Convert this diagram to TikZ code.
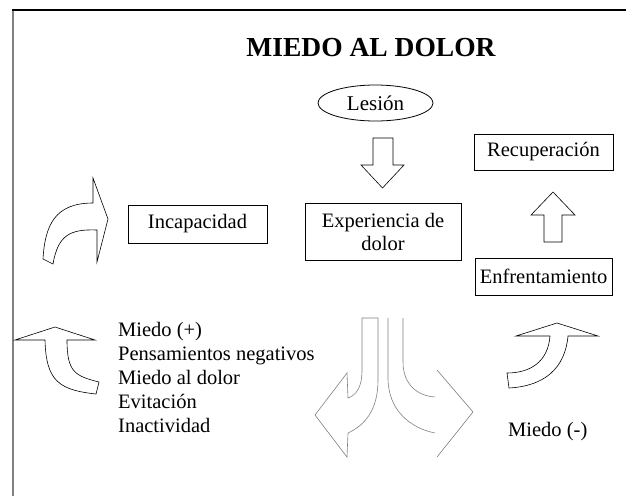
\documentclass[tikz,border=0pt]{standalone}
\usepackage{fontspec}
\setmainfont{Liberation Serif}
\usepackage{tikz}
\usetikzlibrary{shapes.geometric, positioning}
\tikzstyle{caja} = [draw, line width=0.8pt, align=center, inner sep=0pt, font=\fontsize{20.5}{23}\selectfont]
\tikzstyle{texto} = [inner sep=0pt, align=left, font=\fontsize{20.5}{24}\selectfont]
\tikzstyle{flecha} = [draw, line width=0.6pt, line join=miter]
\tikzstyle{gris} = [draw=gray, line width=0.6pt]

\begin{document}
\begin{tikzpicture}[x=1pt, y=-1pt]
        \useasboundingbox (0,0) rectangle (626,496);
        % marco
        \draw[gray, line width=1.5pt] (13,496) -- (13,10);
        \draw[line width=1.3pt] (12.3,10) -- (626,10);

        \node[font=\bfseries\fontsize{27.5}{30}\selectfont] (titulo) at (371,48) {MIEDO AL DOLOR};
        \node[caja, ellipse, minimum width=115pt, minimum height=36pt, font=\fontsize{21}{24}\selectfont] (lesion) at (375.5,103) {Lesión};
        \node[caja, minimum width=139pt, minimum height=36pt] (recup) at (543.5,152) {Recuperación};
        \node[caja, minimum width=139pt, minimum height=38pt] (incap) at (197.5,224) {Incapacidad};
        \node[caja, minimum width=156pt, minimum height=57pt] (exper) at (383,231.5) {Experiencia de\\dolor};
        \node[caja, minimum width=137pt, minimum height=37pt] (enfren) at (543.5,276.5) {Enfrentamiento};
        \node[texto, anchor=north west] (lista) at (118,322) {Miedo (+)\\Pensamientos negativos\\Miedo al dolor\\Evitación\\Inactividad};
        \node[texto, anchor=west] (miedomenos) at (508,432) {Miedo (-)};

        % flechas rectas
        \draw[flecha] (373,138) -- (393,138) -- (393,165) -- (404,165) -- (382.5,188) -- (361,165) -- (373,165) -- cycle;
        \draw[flecha] (544,242) -- (562,242) -- (562,215) -- (575,215) -- (553,192) -- (531,215) -- (544,215) -- cycle;

        % flechas curvas
        \draw[flecha] (93,203) -- (93,178) -- (108,219) -- (97,262) -- (97,230)
            .. controls (70,229) and (58,235) .. (53,264) -- (43,259)
            .. controls (45,225) and (55,203) .. (93,203);
        \draw[flecha] (45,340) -- (15,340) -- (55,327) -- (95,340) -- (67,340)
            .. controls (67,372) and (75,376) .. (99,382) -- (96,394)
            .. controls (60,390) and (46,382) .. (45,340);
        \draw[flecha] (550,336) -- (516,336) -- (557,323) -- (598,336) -- (568,336)
            .. controls (565,368) and (545,386) .. (509,388) -- (507,373)
            .. controls (530,373) and (548,362) .. (550,336);

        % flecha doble del centro
        \draw[gris] (378,318) -- (362,318) -- (362,370) .. controls (362,388) and (356,395) .. (348,398)
            -- (347,373) -- (315,415) -- (347,457) -- (348,433)
            .. controls (365,425) and (378,410) .. (378,380) -- (378,318);
        \draw[gris] (388,318) -- (388,378) .. controls (388,410) and (410,428) .. (435,433);
        \draw[gris] (403,318) -- (403,362) .. controls (403,385) and (418,396) .. (435,397);
        \draw[gris] (437,370) -- (473,412) -- (437,457);
    \end{tikzpicture}
\end{document}
